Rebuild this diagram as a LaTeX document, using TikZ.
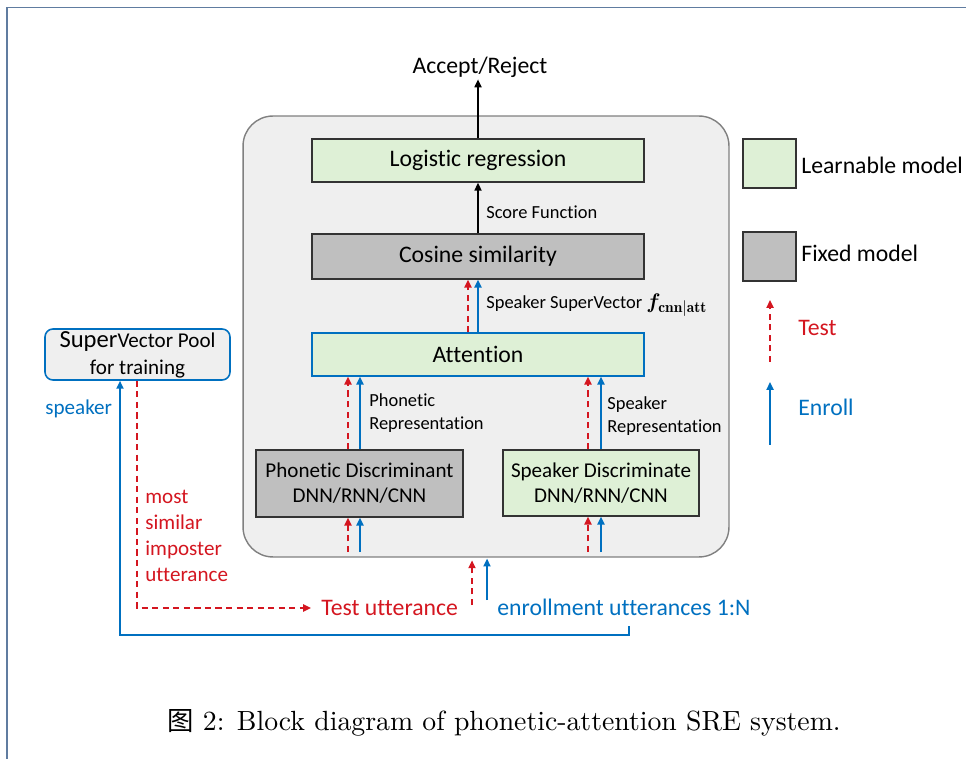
\documentclass[tikz,border=0pt]{standalone}
\usepackage{fontspec}
\usepackage{bm}
\usepackage{graphicx}
\newfontfamily\dgfont[Ligatures=NoCommon]{Carlito}
\newfontfamily\cjkfont{Noto Sans CJK SC}
\usetikzlibrary{arrows.meta,calc}
\definecolor{tred}{RGB}{212,22,32}
\definecolor{eblue}{RGB}{0,112,192}
\definecolor{lgreen}{RGB}{222,240,214}
\definecolor{fgray}{RGB}{191,191,191}
\definecolor{sysgray}{RGB}{239,239,239}
\definecolor{framec}{RGB}{96,124,160}
\begin{document}
\begin{tikzpicture}[x=0.02cm,y=-0.02cm, font=\dgfont,
 arrtip/.style={-{Triangle[length=4.5pt,width=4pt]}},
 testar/.style={arrtip, draw=tred, line width=1.1pt, dash pattern=on 3.5pt off 2.5pt},
 enrar/.style={arrtip, draw=eblue, line width=1.1pt},
 blkar/.style={arrtip, draw=black, line width=0.9pt},
 learn/.style={draw=black!80, line width=0.8pt, fill=lgreen, inner sep=0},
 fixed/.style={draw=black!80, line width=0.8pt, fill=fgray, inner sep=0},
 fbig/.style={font=\dgfont\fontsize{13.5}{16}\selectfont},
 fmid/.style={font=\dgfont\fontsize{12}{14.2}\selectfont},
 fsmall/.style={font=\dgfont\fontsize{10.5}{13}\selectfont},
 txt/.style={inner sep=0}
]
\useasboundingbox (0,0) rectangle (966,759);
% frame
\draw[framec, line width=0.9pt] (7,759) -- (7,7.5) -- (966,7.5);

% system box
\node[draw=black!50, line width=0.8pt, fill=sysgray, rounded corners=17pt,
      minimum width=9.72cm, minimum height=8.82cm, inner sep=0] (sys) at (486,336.5) {};

\node[learn, fbig, minimum width=6.64cm, minimum height=0.86cm] (logi) at (478,160.5) {Logistic regression};
\node[fixed, fbig, minimum width=6.64cm, minimum height=0.9cm] (cos) at (478,256.5) {Cosine similarity};
\node[learn, draw=eblue, fbig, minimum width=6.64cm, minimum height=0.86cm] (att) at (478,354.5) {Attention};
\node[fixed, fmid, align=center, minimum width=4.14cm, minimum height=1.34cm] (phon) at (359.5,483.5) {Phonetic Discriminant\\DNN/RNN/CNN};
\node[learn, fmid, align=center, minimum width=3.92cm, minimum height=1.32cm] (spk) at (601,483) {Speaker Discriminate\\DNN/RNN/CNN};

\node[txt, fbig] (acc) at (480,67) {Accept/Reject};

% internal arrows
\draw[blkar] (logi.north) -- ([yshift=-1pt]logi.north |- acc.south);
\draw[blkar] (cos.north) -- (logi.south);
\draw[testar] (att.north -| 468,0) -- (cos.south -| 468,0);
\draw[enrar] (att.north) -- (cos.south);
\draw[testar] (phon.north -| 348,0) -- (att.south -| 348,0);
\draw[enrar] (phon.north -| 360,0) -- (att.south -| 360,0);
\draw[testar] (spk.north -| 588,0) -- (att.south -| 588,0);
\draw[enrar] (spk.north -| 601,0) -- (att.south -| 601,0);

\coordinate (pi1) at (348,552);
\coordinate (pi2) at (360,552);
\coordinate (si1) at (588,552);
\coordinate (si2) at (601,552);
\draw[testar] (pi1) -- (phon.south -| pi1);
\draw[enrar] (pi2) -- (phon.south -| pi2);
\draw[testar] (si1) -- (spk.south -| si1);
\draw[enrar] (si2) -- (spk.south -| si2);

% labels inside
\node[txt, fsmall, anchor=west] (sf) at (486,212) {Score Function};
\node[txt, fsmall, anchor=west] (sv) at (486,305) {Speaker SuperVector {\fontsize{12.5}{14}\selectfont$\bm{f}_{\mathbf{cnn|att}}$}};
\node[txt, fsmall, anchor=west, align=left] (pr) at (369,413.5) {Phonetic\\Representation};
\node[txt, fsmall, anchor=west, align=left] (sr) at (607,416) {Speaker\\Representation};

% inputs
\node[txt, fbig, text=tred, anchor=west] (tu) at (321,608) {Test utterance};
\node[txt, fbig, text=eblue, anchor=west] (eu) at (497,607) {enrollment utterances 1:N};
\coordinate (tin) at (472,605);
\coordinate (ein) at (487,600);
\draw[testar, shorten >=1.5pt] (tin) -- (sys.south -| tin);
\draw[enrar, shorten >=0.5pt] (ein) -- (sys.south -| ein);

% supervector pool
\node[draw=eblue, line width=0.9pt, fill=sysgray, rounded corners=4.5pt,
      minimum width=3.7cm, minimum height=1.02cm, inner sep=0, align=center,
      font=\dgfont\fontsize{12}{15.3}\selectfont] (pool) at (137.5,354.5)
      {{\fontsize{14}{14}\selectfont Super}Vector Pool\\for training};
\draw[testar] (pool.south -| 137,0) |- ($(tu.west)+(-10,0)$);
\coordinate (ee) at (629,626);
\draw[enrar] (ee) -- ++(0,9) -| (pool.south -| 120,0);

\node[txt, fmid, text=eblue, anchor=west] (spklab) at (45,409) {speaker};
\node[txt, text=tred, anchor=west, align=left, font=\dgfont\fontsize{12}{14.7}\selectfont] (imp) at (145,536) {most\\similar\\imposter\\utterance};

% legend
\node[learn, minimum width=1.06cm, minimum height=0.98cm] (lg1) at (769.5,163.5) {};
\node[fixed, minimum width=1.06cm, minimum height=0.98cm] (lg2) at (769.5,256.5) {};
\node[txt, fbig, anchor=west] (lt1) at (801,165) {Learnable model};
\node[txt, fbig, anchor=west] (lt2) at (801,253) {Fixed model};
\coordinate (lr0) at (770,362);
\coordinate (lr1) at (770,300);
\coordinate (lb0) at (770,445);
\coordinate (lb1) at (770,382);
\draw[testar] (lr0) -- (lr1);
\draw[enrar] (lb0) -- (lb1);
\node[txt, fbig, text=tred, anchor=west] (lt3) at (798,328) {Test};
\node[txt, fbig, text=eblue, anchor=west] (lt4) at (798,407) {Enroll};

% caption
\node[txt, font=\normalfont] (cap) at (504,723) {\scalebox{1.58}{\normalfont\fontsize{10}{12}\selectfont{\cjkfont\fontsize{9.5}{12}\selectfont 图} 2: Block diagram of phonetic-attention SRE system.}};
\end{tikzpicture}
\end{document}
